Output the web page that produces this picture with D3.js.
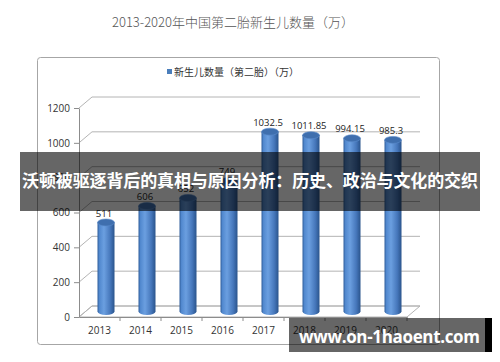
<!DOCTYPE html>
<html>
<head>
<meta charset="utf-8">
<script src="https://cdn.jsdelivr.net/npm/d3@7"></script>
<style>
  body { margin: 0; background: #fff; }
  text { font-family: "Open Sans", "Noto Sans", "Noto Sans CJK SC", sans-serif; }
</style>
</head>
<body>
<svg id="chart" width="500" height="362"></svg>
<script>
var years = ["2013", "2014", "2015", "2016", "2017", "2018", "2019", "2020"];
var births = [511, 606, 652, 749, 1032.5, 1011.85, 994.15, 985.3];
var labels = ["511", "606", "652", "749", "1032.5", "1011.85", "994.15", "985.3"];
var yTicks = [0, 200, 400, 600, 800, 1000, 1200];

var title = "2013-2020年中国第二胎新生儿数量（万）";
var legendName = "新生儿数量（第二胎）（万）";
var banner = "沃顿被驱逐背后的真相与原因分析：历史、政治与文化的交织";
var mark = "www.on-1haoent.com";

// depth of the 3d box
var dx = 13, dy = -11;

var x = d3.scaleBand().domain(years).range([79, 407]);
var y = d3.scaleLinear().domain([0, 1200]).range([317, 108]);

var svg = d3.select("#chart");

var defs = svg.append("defs");
var grad = defs.append("linearGradient").attr("id", "cyl")
  .attr("x1", "0%").attr("x2", "100%").attr("y1", "0%").attr("y2", "0%");
[[0, "#2f5e9c"], [0.12, "#5289cf"], [0.38, "#6b9fe0"], [0.75, "#4677bb"], [1, "#2a548c"]]
  .forEach(function(s) {
    grad.append("stop").attr("offset", s[0]).attr("stop-color", s[1]);
  });

svg.append("text")
  .attr("x", 233).attr("y", 27)
  .attr("text-anchor", "middle")
  .style("font-family", "'Noto Sans CJK SC', sans-serif")
  .style("font-weight", 300)
  .style("font-size", "13px")
  .style("fill", "#555")
  .text(title);

svg.append("rect")
  .attr("x", 37.5).attr("y", 57.5)
  .attr("width", 402).attr("height", 287)
  .attr("rx", 3)
  .style("fill", "#fff")
  .style("stroke", "#a6a6a6");

// legend
svg.append("rect")
  .attr("x", 167).attr("y", 69)
  .attr("width", 5).attr("height", 5)
  .style("fill", "#4a7ebb");
svg.append("text")
  .attr("x", 174).attr("y", 72)
  .attr("dy", ".35em")
  .style("font-family", "'Noto Sans CJK SC', sans-serif")
  .style("font-size", "10px")
  .style("fill", "#333")
  .text(legendName);

var x0 = x.range()[0], x1 = x.range()[1];

// floor
svg.append("path")
  .attr("d", "M" + x0 + "," + y(0) + "L" + x1 + "," + y(0) + "L" + (x1 + dx) + "," + (y(0) + dy) + "L" + (x0 + dx) + "," + (y(0) + dy) + "Z")
  .style("fill", "#fff")
  .style("stroke", "#b4b4b4");

// back wall gridlines + side wall diagonals
var grid = svg.append("g");
grid.selectAll(".back").data(yTicks).enter().append("line")
  .attr("x1", x0 + dx).attr("x2", x1 + dx)
  .attr("y1", function(d) { return y(d) + dy; })
  .attr("y2", function(d) { return y(d) + dy; })
  .style("stroke", "#b4b4b4");
grid.selectAll(".side").data(yTicks).enter().append("line")
  .attr("x1", x0).attr("x2", x0 + dx)
  .attr("y1", function(d) { return y(d); })
  .attr("y2", function(d) { return y(d) + dy; })
  .style("stroke", "#b4b4b4");

// y axis
var yAxis = d3.axisLeft(y).tickValues(yTicks).tickFormat(d3.format("d"))
  .tickSize(5).tickSizeOuter(0).tickPadding(4);
var gy = svg.append("g").attr("transform", "translate(" + x0 + ",0)").call(yAxis);
gy.select(".domain").style("stroke", "#8c8c8c");
gy.selectAll(".tick line").style("stroke", "#8c8c8c");
gy.selectAll(".tick text")
  .style("font-size", "10px")
  .style("fill", "#333");

// x axis
var xAxis = d3.axisBottom(x).tickSize(0).tickPadding(10);
var gx = svg.append("g").attr("transform", "translate(0," + y(0) + ")").call(xAxis);
gx.select(".domain").style("stroke", "#8c8c8c");
gx.selectAll(".tick text")
  .style("font-size", "10px")
  .style("fill", "#333");
gx.selectAll(".sep").data(years.slice(1).concat(["end"])).enter().append("line")
  .attr("x1", function(d, i) { return x0 + (i + 1) * x.bandwidth(); })
  .attr("x2", function(d, i) { return x0 + (i + 1) * x.bandwidth(); })
  .attr("y1", 0).attr("y2", 4)
  .style("stroke", "#8c8c8c");

// cylinders
var rx = 8.5, ry = 3.5;
var base = y(0) + dy / 2;
var bars = svg.selectAll(".bar").data(births).enter().append("g").attr("class", "bar");

function cx(i) { return x(years[i]) + x.bandwidth() / 2 + dx / 2; }
function barTop(d) { return y(d) + dy / 2; }

bars.append("path")
  .attr("d", function(d, i) {
    var c = cx(i), t = barTop(d);
    return "M" + (c - rx) + "," + t + "L" + (c - rx) + "," + base +
      "A" + rx + "," + ry + " 0 0 0 " + (c + rx) + "," + base +
      "L" + (c + rx) + "," + t + "Z";
  })
  .style("fill", "url(#cyl)");

bars.append("ellipse")
  .attr("cx", function(d, i) { return cx(i); })
  .attr("cy", function(d) { return barTop(d); })
  .attr("rx", rx).attr("ry", ry)
  .style("fill", "#3f6fae")
  .style("stroke", "#5a8bcb")
  .style("stroke-width", 0.6);

bars.append("text")
  .attr("x", function(d, i) { return cx(i) - 2; })
  .attr("y", function(d) { return barTop(d) - 6; })
  .attr("text-anchor", "middle")
  .style("font-size", "9.5px")
  .style("fill", "#222")
  .text(function(d, i) { return labels[i]; });

// overlay banner
svg.append("rect")
  .attr("x", 20).attr("y", 152)
  .attr("width", 460).attr("height", 59)
  .style("fill", "rgba(0,0,0,0.6)");
svg.append("text")
  .attr("x", 22).attr("y", 187)
  .attr("textLength", 456)
  .style("font-family", "'Noto Sans CJK SC', sans-serif")
  .style("font-weight", "bold")
  .style("font-size", "17px")
  .style("fill", "#fff")
  .text(banner);

// watermark
svg.append("rect")
  .attr("x", 289).attr("y", 318)
  .attr("width", 196).attr("height", 34)
  .style("fill", "rgba(0,0,0,0.6)");
svg.append("rect")
  .attr("x", 485).attr("y", 318)
  .attr("width", 7).attr("height", 34)
  .style("fill", "#000");
svg.append("text")
  .attr("x", 299).attr("y", 343)
  .attr("textLength", 181)
  .style("font-family", "'Open Sans', sans-serif")
  .style("font-weight", "bold")
  .style("font-size", "17px")
  .style("fill", "#fff")
  .text(mark);
</script>
</body>
</html>
